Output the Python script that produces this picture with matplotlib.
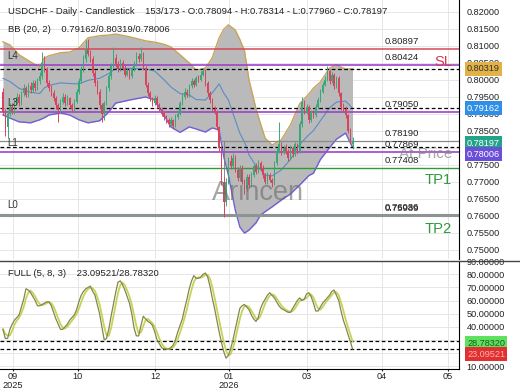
import numpy as np
import pandas as pd
import matplotlib.pyplot as plt
from matplotlib.lines import Line2D
from matplotlib.transforms import blended_transform_factory

plt.rcParams['font.family'] = ['Liberation Sans', 'DejaVu Sans']
plt.rcParams['font.size'] = 6.6

# Daily USDCHF candles (open of each bar = previous close).
first_open = 0.7965
closes = [.7905, .7860, .7900, .7920, .7905, .7935, .7950, .7930, .7960, .7975,
          .7955, .7980, .7970, .7990, .7975, .7995, .8010, .8050, .8030, .7990,
          .7975, .7960, .7945, .7925, .7910, .7935, .7950, .7930, .7945, .7925,
          .7915, .7935, .7965, .7995, .8030, .8060, .8090, .8075, .8060, .8020,
          .7990, .7965, .7925, .7900, .7930, .7975, .8010, .8040, .8065, .8045,
          .8030, .8050, .8035, .8015, .8025, .8010, .8030, .8045, .8070, .8060,
          .8075, .8035, .7985, .7960, .7945, .7930, .7945, .7925, .7915, .7900,
          .7890, .7880, .7870, .7880, .7865, .7890, .7900, .7930, .7950, .7965,
          .7955, .7980, .7995, .7985, .8005, .8000, .8015, .8025, .7990, .7960,
          .7940, .7915, .7905, .7860, .7800, .7700, .7640, .7700, .7760, .7745,
          .7770, .7735, .7710, .7740, .7700, .7680, .7715, .7690, .7720, .7745,
          .7730, .7755, .7740, .7720, .7700, .7720, .7705, .7695, .7755, .7790,
          .7810, .7785, .7800, .7790, .7770, .7800, .7780, .7810, .7790, .7870,
          .7935, .7905, .7920, .7880, .7905, .7895, .7920, .7940, .7965, .7985,
          .8000, .8025, .7995, .8015, .7980, .8005, .7960, .7920, .7915, .7895,
          .7850, .78094, .78197]
highs = [.7975, .7915, .7910, .7932, .7930, .7942, .7962, .7958, .7968, .7988,
         .7982, .7990, .7992, .8000, .7998, .8005, .8022, .8080, .8070, .8038,
         .7998, .7985, .7970, .7952, .7932, .7942, .7960, .7958, .7955, .7950,
         .7932, .7942, .7972, .8005, .8040, .8072, .8115, .8120, .8088, .8068,
         .8028, .7998, .7972, .7930, .7938, .7982, .8018, .8050, .8095, .8075,
         .8055, .8062, .8058, .8042, .8035, .8032, .8038, .8055, .8082, .8078,
         .8095, .8080, .8040, .7992, .7968, .7950, .7955, .7952, .7932, .7920,
         .7908, .7895, .7888, .7890, .7885, .7898, .7912, .7938, .7960, .7975,
         .7972, .7988, .8005, .8002, .8012, .8015, .8025, .8035, .8030, .7995,
         .7968, .7945, .7922, .7910, .7865, .7805, .7715, .7712, .7772, .7778,
         .7785, .7778, .7742, .7750, .7748, .7708, .7722, .7722, .7730, .7752,
         .7755, .7765, .7762, .7748, .7725, .7728, .7726, .7712, .7762, .7798,
         .7875, .7818, .7808, .7810, .7795, .7808, .7806, .7818, .7815, .7878,
         .7950, .7940, .7928, .7925, .7912, .7910, .7928, .7948, .7972, .7992,
         .8010, .8040, .8032, .8022, .8020, .8012, .8010, .7965, .7930, .7922,
         .7900, .7858, .78314]
lows = [.7895, .7835, .7828, .7892, .7898, .7898, .7928, .7922, .7925, .7952,
        .7948, .7950, .7962, .7964, .7968, .7970, .7988, .8002, .8022, .7982,
        .7968, .7952, .7938, .7915, .7875, .7902, .7928, .7922, .7925, .7918,
        .7905, .7908, .7930, .7958, .7990, .8022, .8052, .8068, .8052, .8012,
        .7982, .7958, .7918, .7875, .7880, .7925, .7968, .8002, .8035, .8038,
        .8022, .8025, .8028, .8008, .8010, .8002, .8005, .8024, .8040, .8052,
        .8055, .8028, .7978, .7952, .7938, .7922, .7925, .7918, .7908, .7892,
        .7882, .7872, .7862, .7864, .7855, .7860, .7884, .7895, .7924, .7944,
        .7948, .7950, .7974, .7978, .7980, .7992, .7995, .8010, .7982, .7952,
        .7932, .7908, .7898, .7852, .7790, .7690, .7596, .7630, .7692, .7738,
        .7740, .7728, .7702, .7705, .7692, .7665, .7674, .7682, .7685, .7714,
        .7722, .7725, .7732, .7712, .7692, .7694, .7698, .7684, .7690, .7750,
        .7784, .7778, .7780, .7782, .7762, .7765, .7772, .7775, .7782, .7785,
        .7862, .7898, .7900, .7872, .7875, .7888, .7890, .7914, .7935, .7960,
        .7980, .7995, .7988, .7990, .7972, .7975, .7952, .7912, .7908, .7888,
        .7842, .7845, .77960]

# Bollinger band (20, 2) at some bars
band_bars = [0, 3, 7, 12, 16, 18, 20, 25, 29, 33, 37, 42, 46, 49, 55, 62, 66, 70,
             73, 77, 81, 84, 88, 91, 94, 96, 98, 101, 103, 105, 107, 110, 112, 114,
             117, 121, 125, 129, 133, 135, 138, 142, 145, 149, 152]
band_upper = [.8111, .8102, .8073, .8052, .8037, .8064, .8070, .8079, .8081, .8093,
              .8123, .8129, .8131, .8134, .8126, .8114, .8110, .8104, .8096, .8073,
              .8049, .8028, .8034, .8064, .8123, .8148, .8161, .8146, .8118, .8085,
              .7999, .7915, .7870, .7828, .7808, .7823, .7867, .7929, .7958, .7975,
              .7993, .8034, .8043, .8031, .80319]
band_lower = [.7896, .7887, .7876, .7873, .7882, .7888, .7896, .7902, .7896, .7882,
              .7873, .7879, .7905, .7931, .7940, .7949, .7940, .7896, .7861, .7845,
              .7861, .7855, .7846, .7858, .7852, .7773, .7720, .7617, .7567, .7549,
              .7558, .7579, .7602, .7612, .7626, .7646, .7664, .7690, .7718, .7725,
              .7765, .7800, .7825, .7843, .780056]

# Full stochastic (5, 8, 3) %K
stoch_k = [38, 31, 31, 38, 42, 45, 47, 49, 55, 61,
           69, 68, 66, 63, 60, 56, 56, 57, 58, 59,
           59, 56, 51, 46, 42, 38, 38, 40, 42, 45,
           47, 49, 53, 59, 64, 67, 69, 70, 71, 67,
           64, 57, 50, 40, 30, 31, 38, 48, 57, 66,
           74, 75, 72, 68, 63, 58, 50, 39, 33, 33,
           41, 48, 46, 44, 43, 41, 36, 30, 27, 24,
           23, 23, 23, 24, 26, 30, 36, 41, 46, 54,
           61, 69, 75, 79, 77, 77, 78, 80, 81, 78,
           71, 62, 54, 45, 36, 28, 21, 16, 18, 23,
           30, 38, 46, 54, 56, 57, 55, 53, 49, 46,
           44, 47, 54, 58, 61, 64, 66, 64, 62, 59,
           56, 54, 53, 52, 51, 51, 54, 57, 60, 62,
           60, 61, 65, 66, 63, 58, 52, 52, 55, 58,
           60, 62, 64, 67, 68, 64, 60, 52, 45, 40,
           34.3, 28.95439, 23.09521]

# Horizontal levels
lvl_top = 0.80897
lvl_l4 = 0.80424
lvl_l3 = 0.79050
lvl_gray = 0.78190
lvl_l1 = 0.77869
lvl_tp1 = 0.77408
lvl_l0 = [0.76036, 0.75989]

xtick_pos = [4.4, 32.6, 66.1, 98.3, 132.0, 164.7, 193.3]
xtick_labels = ['09\n2025', '10', '12', '01\n2026', '03', '04', '05']

# ---- derived values
c = np.array(closes)
o = np.array([first_open] + closes[:-1])
h = np.array(highs)
l = np.array(lows)
x = np.arange(len(c))
bu = np.array(band_upper)
bl = np.array(band_lower)
bm = (bu + bl) / 2
k = pd.Series(stoch_k)
d = k.rolling(3, min_periods=1).mean()

fig = plt.figure(figsize=(5.2, 3.9), dpi=100)
ax = fig.add_axes([0.0, 0.336, 0.8827, 0.664])
ax2 = fig.add_axes([0.0, 0.0538, 0.8827, 0.2777], sharex=ax)

# Bollinger band
ax.fill_between(band_bars, bu, bl, color='#bababa', zorder=1, lw=0)
ax.plot(band_bars, bu, c='#c9a35a', lw=1, zorder=1.5)
ax.plot(band_bars, bl, c='#6f5fd6', lw=1, zorder=1.5)
ax.plot(band_bars, bm, c='#5b8bc8', lw=0.8, zorder=1.5)

# Levels
ax.axhline(lvl_top, c='#d8485a', lw=1.1, zorder=2)
for v in [lvl_l4, lvl_l3, lvl_l1]:
    ax.axhline(v, c='#9b45c8', lw=1.2, zorder=2)
ax.axhline(lvl_gray, c='#8a8a8a', lw=0.9, zorder=2)
ax.axhline(lvl_tp1, c='#2e9a3a', lw=1.0, zorder=2)
for v in lvl_l0:
    ax.axhline(v, c='#8e9494', lw=1.5, zorder=2)
for v in [bu[-1], bm[-1], bl[-1]]:
    ax.axhline(v, c='black', lw=0.9, ls=(0, (3, 2)), zorder=2.2)
ax.vlines(96, lvl_l0[1], lvl_gray, colors='#777777', lw=0.6, zorder=2)

# Candles
up = c >= o
cols = np.where(up, '#3aa876', '#d6455d')
ax.vlines(x, l, h, colors=cols, lw=0.7, zorder=3)
body = np.maximum(np.abs(c - o), 0.00008)
ax.bar(x, body, bottom=np.minimum(o, c), width=0.6, color=cols, zorder=3)

# Texts on the chart
ax.text(0.0174, 0.9537, 'USDCHF - Daily - Candlestick    %d/173 - O:%.5f - H:%.5f - L:%.5f - C:%.5f'
        % (len(c), o[-1], h[-1], l[-1], c[-1]), transform=ax.transAxes, va='center',
        fontsize=6.8, color='#222222', zorder=6)
ax.text(0.0174, 0.888, 'BB (20, 2)    %.5f/%.5f/%.5f' % (bm[-1], bu[-1], bl[-1]),
        transform=ax.transAxes, va='center', fontsize=6.8, color='#222222', zorder=6)

for v in [lvl_top, lvl_l4, lvl_l3, lvl_gray, lvl_l1, lvl_tp1] + lvl_l0:
    ax.annotate('%.5f' % v, (166, v), xytext=(0, 2), textcoords='offset points',
                ha='left', va='bottom', fontsize=6.8, color='#222222', zorder=6)
for name, v in [('L4', lvl_l4), ('L3', lvl_l3), ('L1', lvl_l1), ('L0', lvl_l0[0])]:
    ax.annotate(name, (1.7, v), xytext=(0, 3), textcoords='offset points',
                ha='left', va='bottom', fontsize=7, color='#333333', zorder=6)
ax.annotate('SL', (195.2, lvl_l4), xytext=(0, 2.5), textcoords='offset points',
            ha='right', va='center', fontsize=10.6, color='#d83a55', zorder=6)
ax.annotate('TP1', (195.2, lvl_tp1), xytext=(0, -9), textcoords='offset points',
            ha='right', va='center', fontsize=10.6, color='#2e9a3a', zorder=6)
ax.annotate('TP2', (195.2, lvl_l0[1]), xytext=(0, -9.5), textcoords='offset points',
            ha='right', va='center', fontsize=10.6, color='#2e9a3a', zorder=6)
ax.annotate('At Price', (195.2, lvl_l1), xytext=(0, -1), textcoords='offset points',
            ha='right', va='center', fontsize=11, color='#8a8a8a', alpha=0.75, zorder=6)
ax.text(111, 0.7666, 'Arincen', ha='center', va='center', fontsize=19.5,
        color='#6a6a6a', alpha=0.6, zorder=6)

# Axes styling
ax.set_xlim(-1.3, 198.3)
ax.set_ylim(0.7473, 0.8234)
ax.set_yticks(np.arange(0.750, 0.8201, 0.005))
ax.yaxis.set_major_formatter(plt.FormatStrFormatter('%.5f'))
ax.yaxis.tick_right()
ax.tick_params(axis='y', length=0, pad=5.5, labelsize=6.6, colors='#222222')
ax.tick_params(axis='x', length=0, labelbottom=False)
ax.set_xticks(xtick_pos)
ax.grid(True, color='#e6e6e6', lw=0.7, zorder=0)
ax.set_axisbelow(True)
for s in ['left', 'top', 'bottom']:
    ax.spines[s].set_visible(False)
ax.spines['right'].set_color('black')

# current-value boxes on the price scale (stacked so they do not hide each other)
for v, dy, bg, fg in [(bu[-1], 0, '#e2b246', '#333333'), (bm[-1], 0, '#2f8fe6', 'white'),
                      (c[-1], -1.5, '#22a38a', 'white'), (bl[-1], -4.8, '#6b4fd8', 'white')]:
    ax.annotate('%.5f' % v, (1.0175, v), xycoords=('axes fraction', 'data'),
                xytext=(0, dy), textcoords='offset points', va='center', ha='left',
                color=fg, fontsize=6.6, annotation_clip=False, zorder=7,
                bbox=dict(boxstyle='square,pad=0.25', fc=bg, ec='none'))

# Stochastic panel
ax2.plot(x, d, c='#c6d35a', lw=1.3, zorder=3)
ax2.plot(x, k, c='#85854a', lw=0.9, zorder=3.5)
ax2.axhline(d.iloc[-1], c='black', lw=0.9, ls=(0, (3, 2)), zorder=2)
ax2.axhline(k.iloc[-1], c='black', lw=0.9, ls=(0, (3, 2)), zorder=2)
ax2.text(0.0174, 0.886, 'FULL (5, 8, 3)    %.5f/%.5f' % (k.iloc[-1], d.iloc[-1]),
         transform=ax2.transAxes, va='center', fontsize=6.8, color='#222222')
ax2.set_ylim(7.7, 90.4)
ax2.set_yticks(np.arange(10, 91, 10))
ax2.yaxis.set_major_formatter(plt.FormatStrFormatter('%.5f'))
ax2.yaxis.tick_right()
ax2.tick_params(axis='y', length=0, pad=5.5, labelsize=6.6, colors='#222222')
ax2.set_xticks(xtick_pos)
ax2.set_xticklabels(xtick_labels)
ax2.tick_params(axis='x', length=1.5, pad=0.5, labelsize=6.6, colors='#222222')
for lbl in ax2.get_xticklabels():
    lbl.set_linespacing(1.0)
ax2.grid(True, color='#e6e6e6', lw=0.7, zorder=0)
ax2.set_axisbelow(True)
for s in ['left', 'top']:
    ax2.spines[s].set_visible(False)

for v, dy, bg, fg in [(d.iloc[-1], -1.2, '#5fe05f', '#1d5a1d'),
                      (k.iloc[-1], -3.8, '#e03030', '#ffb0b0')]:
    ax2.annotate('%.5f' % v, (1.0175, v), xycoords=('axes fraction', 'data'),
                 xytext=(0, dy), textcoords='offset points', va='center', ha='left',
                 color=fg, fontsize=6.6, annotation_clip=False, zorder=7,
                 bbox=dict(boxstyle='square,pad=0.25', fc=bg, ec='none'))

fig.add_artist(Line2D([0, 1], [0.3315, 0.3315], transform=fig.transFigure,
                      color='#444444', lw=1))

fig.savefig('out.png', dpi=100)
